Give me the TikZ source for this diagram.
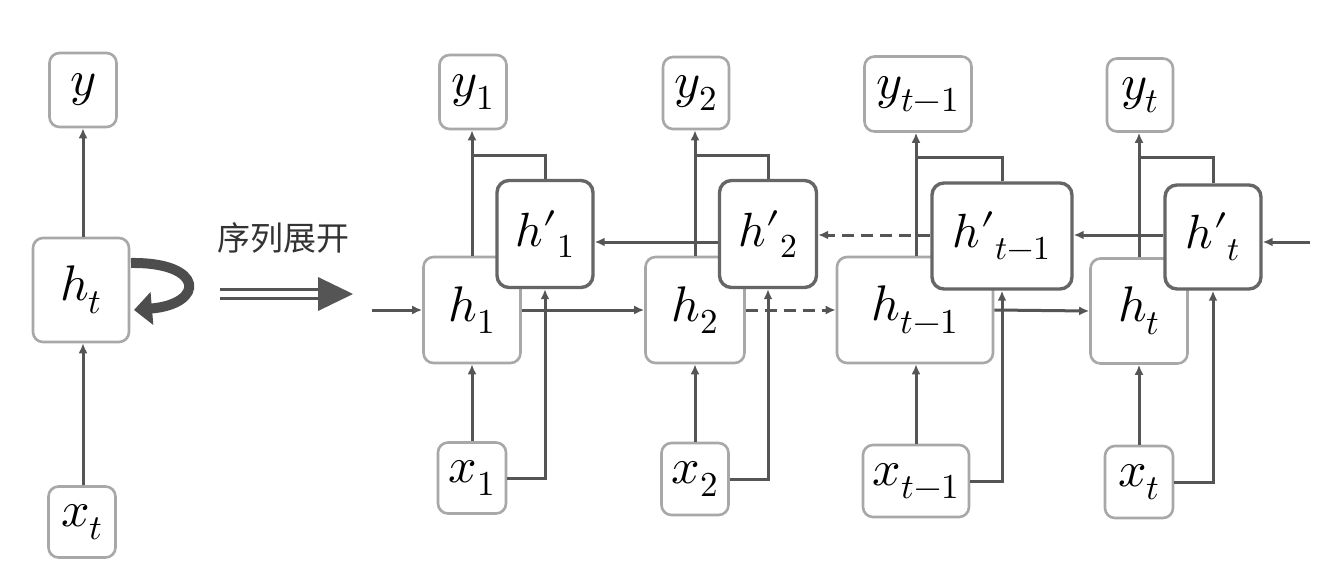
\documentclass[tikz,border=0pt]{standalone}
\usepackage{fontspec}
\usepackage{unicode-math}
\setmathfont{Latin Modern Math}
\newfontfamily\cjk{Noto Sans CJK SC}
\usetikzlibrary{arrows.meta}
\definecolor{linec}{HTML}{555555}
\definecolor{boxc}{HTML}{A8A8A8}
\definecolor{hpc}{HTML}{666666}
\definecolor{loopc}{HTML}{4D4D4D}
\begin{document}
\begin{tikzpicture}[x=1pt,y=-1pt,
 cell/.style={draw=boxc, line width=2.6pt, rounded corners=10pt, fill=white, inner sep=0pt, font=\fontsize{50}{60}\selectfont},
 hcell/.style={cell, draw=hpc, line width=3.4pt, rounded corners=12pt, font=\fontsize{48}{58}\selectfont},
 conn/.style={draw=linec, line width=3pt},
 arr/.style={conn, -{Latex[length=10pt,width=9pt]}},
 darr/.style={arr, dash pattern=on 12pt off 7pt}]
\path[use as bounding box, fill=white] (0,0) rectangle (1341,581);

% ---- folded RNN on the left
\node[cell, minimum width=67pt, minimum height=74pt] (y0) at (83,90) {$y$};
\node[cell, minimum width=96pt, minimum height=104pt] (h0) at (81,290) {$h_t$};
\node[cell, minimum width=67pt, minimum height=71pt] (x0) at (82,522) {$x_t$};
\draw[arr] (x0.north -| 83,0) -- (h0.south -| 83,0);
\draw[arr] (h0.north -| 83,0) -- (y0.south);
\draw[line width=10pt, loopc, -{Triangle[length=18pt,width=32pt]}] (131,263) .. controls (205,262) and (205,304) .. (134,310);

% ---- unfold arrow
\node[font=\cjk\fontsize{33}{40}\selectfont, text=black!80] (lbl) at (283,238) {序列展开};
\draw[linec, line width=3pt] (220,289) -- (322,289);
\draw[linec, line width=3pt] (220,298) -- (322,298);
\fill[linec] (318,277) -- (353,294) -- (318,311) -- cycle;

% ---- h boxes
\node[cell, minimum width=97pt, minimum height=106pt] (h1) at (472,310) {$h_1$};
\node[cell, minimum width=99pt, minimum height=106pt] (h2) at (695,310) {$h_2$};
\node[cell, minimum width=156pt, minimum height=106pt] (hm) at (915,310) {$h_{t-1}$};
\node[cell, minimum width=97pt, minimum height=105pt] (ht) at (1139,311) {$h_t$};

% ---- y boxes
\node[cell, minimum width=67pt, minimum height=74pt] (y1) at (473,92) {$y_1$};
\node[cell, minimum width=66pt, minimum height=72pt] (y2) at (696,93) {$y_2$};
\node[cell, minimum width=107pt, minimum height=75pt] (ym) at (918,94) {$y_{t-1}$};
\node[cell, minimum width=66pt, minimum height=73pt] (yt) at (1140,95) {$y_t$};

% ---- x boxes
\node[cell, minimum width=68pt, minimum height=71pt] (x1) at (472,478) {$x_1$};
\node[cell, minimum width=67pt, minimum height=72pt] (x2) at (695,479) {$x_2$};
\node[cell, minimum width=106pt, minimum height=72pt] (xm) at (916,481) {$x_{t-1}$};
\node[cell, minimum width=68pt, minimum height=72pt] (xt) at (1139,482) {$x_t$};

% ---- vertical x->h and h->y
\draw[arr] (x1.north) -- (x1.north |- h1.south);
\draw[arr] (x2.north) -- (x2.north |- h2.south);
\draw[arr] (xm.north) -- (xm.north |- hm.south);
\draw[arr] (xt.north) -- (xt.north |- ht.south);
\draw[arr] (x1.north |- h1.north) -- (x1.north |- y1.south);
\draw[arr] (x2.north |- h2.north) -- (x2.north |- y2.south);
\draw[arr] (xm.north |- hm.north) -- (xm.north |- ym.south);
\draw[arr] (xt.north |- ht.north) -- (xt.north |- yt.south);

% ---- h' boxes
\node[hcell, minimum width=96pt, minimum height=107pt] (p1) at (545,234) {$h\prime_{1}$};
\node[hcell, minimum width=97pt, minimum height=107pt] (p2) at (768,234) {$h\prime_{2}$};
\node[hcell, minimum width=140pt, minimum height=106pt] (pm) at (1002,236) {$h\prime_{t-1}$};
\node[hcell, minimum width=96pt, minimum height=104pt] (pt) at (1213,237) {$h\prime_{t}$};

% ---- brackets h' -> y
\draw[conn] (p1.north) |- (x1.north |- 0,155);
\draw[conn] (p2.north) |- (x2.north |- 0,155);
\draw[conn] (pm.north) |- (xm.north |- 0,157);
\draw[conn] (pt.north) |- (xt.north |- 0,157);

% ---- x -> h'
\draw[arr] (x1.east) -| (p1.south);
\draw[arr] (x2.east) -| (p2.south);
\draw[arr] (xm.east) -| (pm.south);
\draw[arr] (xt.east) -| (pt.south);

% ---- forward chain
\coordinate (inL) at (372,310);
\draw[arr] (inL) -- (h1.west);
\draw[arr] (h1.east) -- (h2.west);
\draw[darr] (h2.east) -- (hm.west);
\draw[arr] (hm.east) -- (ht.west);

% ---- backward chain
\coordinate (inR) at (1310,242);
\draw[arr] (inR) -- (pt.east |- inR);
\draw[arr] (pt.west |- 0,235) -- (pm.east |- 0,235);
\draw[darr] (pm.west |- 0,235) -- (p2.east |- 0,235);
\draw[arr] (p2.west |- 0,242) -- (p1.east |- 0,242);
\end{tikzpicture}
\end{document}
